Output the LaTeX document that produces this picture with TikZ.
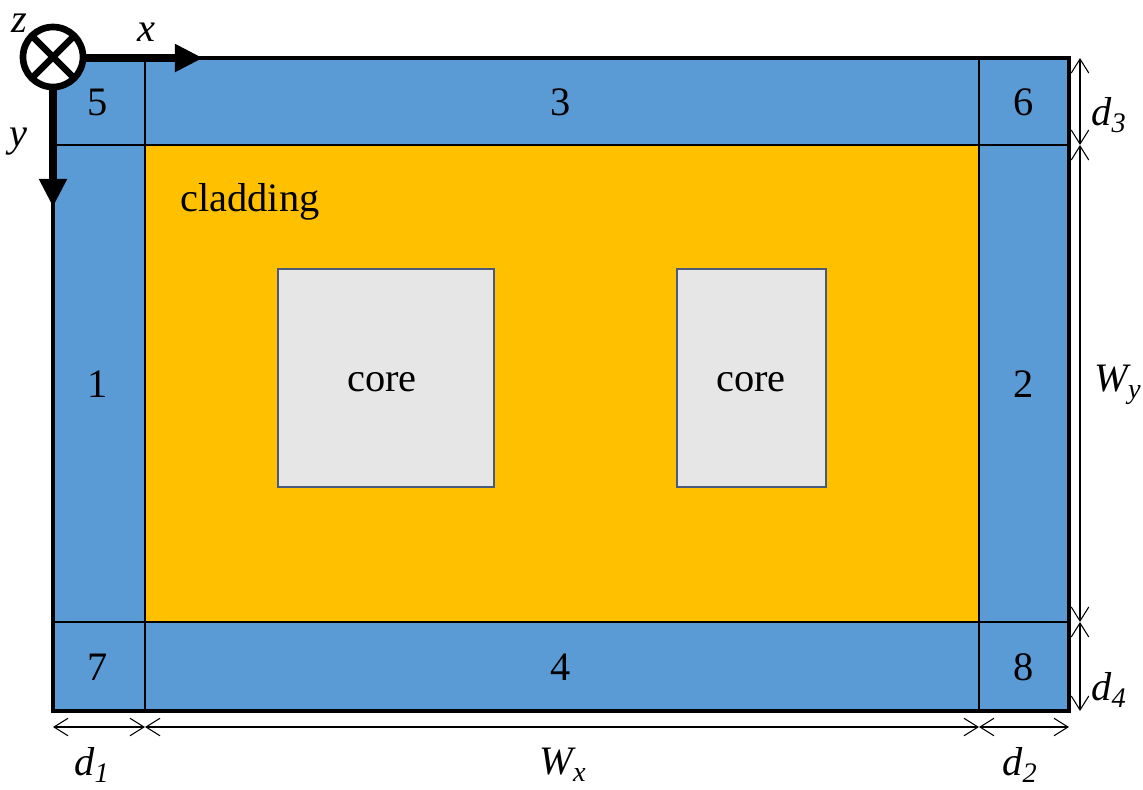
\documentclass[tikz,border=0pt]{standalone}
\usepackage{fontspec}
\setmainfont{Liberation Serif}
\usetikzlibrary{arrows.meta,calc}
\definecolor{haku}{HTML}{5B9BD5}
\definecolor{clad}{HTML}{FFC000}
\definecolor{koa}{HTML}{E6E6E6}
\definecolor{koaline}{HTML}{4A5A7A}
\tikzset{
  lbl/.style={font=\fontsize{23}{26}\selectfont},
  dimlbl/.style={font=\fontsize{23}{26}\selectfont\itshape},
  dim/.style={line width=0.6pt,{Straight Barb[length=8pt,width=10pt]}-{Straight Barb[length=8pt,width=10pt]}},
  axis/.style={line width=4.2pt,-{Triangle[length=16pt,width=15pt]}}
}
\begin{document}
\begin{tikzpicture}[x=0.02cm,y=-0.02cm]
\useasboundingbox(0,0)rectangle(1143,789);

%外枠塗り
\fill[haku](53,58)rectangle(1069,711);
\fill[clad](145,145)rectangle(979,622); %クラッド

%コア
\draw[koaline,fill=koa,line width=0.8pt](278,269)rectangle(494,487);
\draw[koaline,fill=koa,line width=0.8pt](677,269)rectangle(826,487);

%区切り線
\draw[line width=1.6pt](145,58)to(145,711); %縦左
\draw[line width=1.6pt](979,58)to(979,711); %縦右
\draw[line width=1.2pt](53,145)to(1069,145); %横上
\draw[line width=1.2pt](53,622)to(1069,622); %横下
\draw[line width=1.8pt](53,58)rectangle(1069,711); %外枠

%番号
\node[lbl](n5)at(98,102){5};
\node[lbl](n3)at(561,102){3};
\node[lbl](n6)at(1024,102){6};
\node[lbl](n1)at(98,384){1};
\node[lbl](n2)at(1024,384){2};
\node[lbl](n7)at(98,667){7};
\node[lbl](n4)at(561,667){4};
\node[lbl](n8)at(1024,667){8};
\node[lbl](clad)at(250,202){cladding};
\node[lbl](core1)at(382,382){core};
\node[lbl](core2)at(751,382){core};

%座標軸
\coordinate(o)at(53,57);
\coordinate(xs)at(82,58);
\coordinate(xe)at(203,58);
\coordinate(ys)at(53,86);
\coordinate(ye)at(53,207);
\draw[axis](xs)to(xe);
\draw[axis](ys)to(ye);
\draw[line width=3.8pt,fill=white](o)circle(30);
\draw[line width=3.8pt]($(o)+(-21,-21)$)to($(o)+(21,21)$);
\draw[line width=3.8pt]($(o)+(-21,21)$)to($(o)+(21,-21)$);
\node[dimlbl,inner sep=0pt](zl)at(19,23){z};
\node[dimlbl](xl)at(146,32){x};
\node[dimlbl](yl)at(18,142){y};

%寸法線 横
\coordinate(h0)at(53,727);
\coordinate(h1)at(145,727);
\coordinate(h2)at(979,727);
\coordinate(h3)at(1069,727);
\draw[dim](h0)to(h1);
\draw[dim](h1)to(h2);
\draw[dim](h2)to(h3);
\node[dimlbl](d1)at(92,765){d\textsubscript{1}};
\node[dimlbl](wx)at(563,765){W\textsubscript{x}};
\node[dimlbl](d2)at(1020,765){d\textsubscript{2}};

%寸法線 縦
\coordinate(v0)at(1080,58);
\coordinate(v1)at(1080,145);
\coordinate(v2)at(1080,622);
\coordinate(v3)at(1080,711);
\draw[dim](v0)to(v1);
\draw[dim](v1)to(v2);
\draw[dim](v2)to(v3);
\node[dimlbl](d3)at(1109,115){d\textsubscript{3}};
\node[dimlbl](wy)at(1118,385){W\textsubscript{y}};
\node[dimlbl](d4)at(1109,690){d\textsubscript{4}};
\end{tikzpicture}
\end{document}
